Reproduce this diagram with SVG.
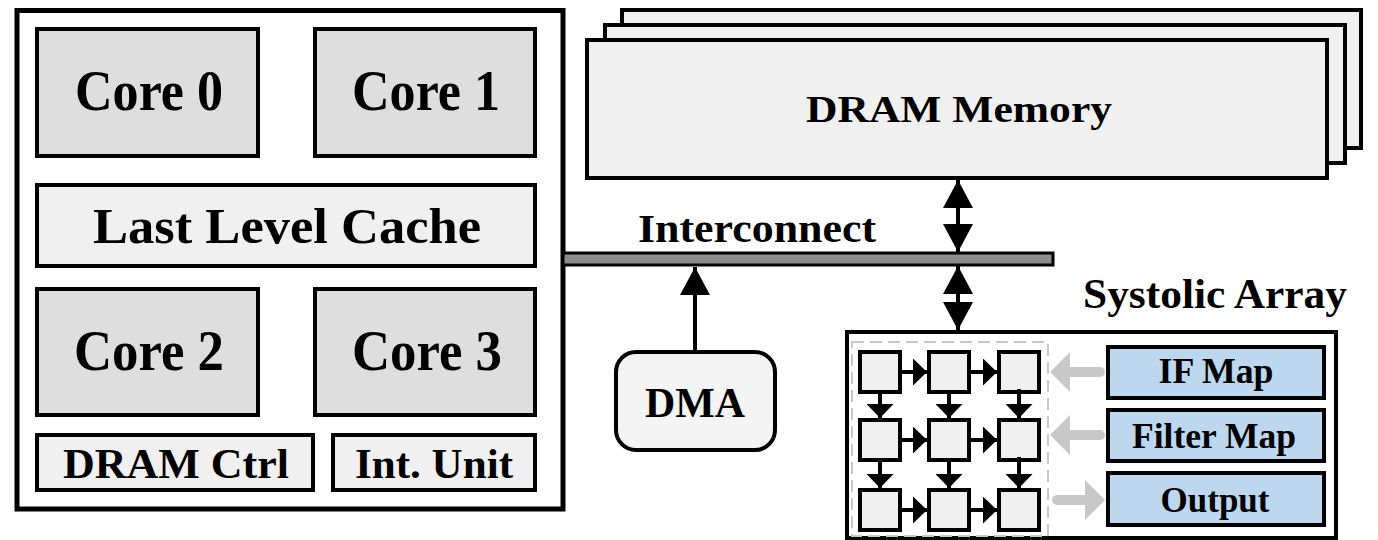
<svg xmlns="http://www.w3.org/2000/svg" width="1378" height="540" viewBox="0 0 1378 540">
  <style>
    .t { font-family: "Liberation Serif", "Times New Roman", serif; font-weight: bold; fill: #000; text-anchor: middle; }
    .core { fill: #dedede; stroke: #000; stroke-width: 4; }
    .light { fill: #f0f0f0; stroke: #000; stroke-width: 4; }
    .pe { fill: #f0f0f0; stroke: #000; stroke-width: 4; }
    .blue { fill: #bdd7ee; stroke: #000; stroke-width: 4; }
    .blk { stroke: #000; stroke-width: 4; fill: none; }
    .pea { stroke: #000; stroke-width: 4; fill: none; }
    .gray { stroke: #c8c8c8; stroke-width: 10; stroke-linecap: round; fill: none; }
  </style>
  <defs>
    <marker id="big" viewBox="0 0 28 30" refX="28" refY="15" markerWidth="28" markerHeight="30" markerUnits="userSpaceOnUse" orient="auto-start-reverse">
      <path d="M0,0 L28,15 L0,30 z" fill="#000"/>
    </marker>
    <marker id="small" viewBox="0 0 14 27" refX="14" refY="13.5" markerWidth="14" markerHeight="27" markerUnits="userSpaceOnUse" orient="auto">
      <path d="M0,0 L14,13.5 L0,27 z" fill="#000"/>
    </marker>
    <marker id="garrow" viewBox="0 0 20 40" refX="8" refY="20" markerWidth="20" markerHeight="40" markerUnits="userSpaceOnUse" orient="auto">
      <path d="M0,0 L20,20 L0,40 z" fill="#c8c8c8"/>
    </marker>
  </defs>

  <rect x="0" y="0" width="1378" height="540" fill="#fff"/>

  <g id="cpu">
    <rect x="17" y="10.5" width="546" height="498.5" fill="#fff" stroke="#000" stroke-width="5"/>
  </g>
  <g id="core0">
    <rect class="core" x="37" y="29" width="221" height="127"/>
    <text class="t" x="149" y="110" font-size="56" textLength="148" lengthAdjust="spacingAndGlyphs">Core 0</text>
  </g>
  <g id="core1">
    <rect class="core" x="315" y="29" width="220" height="127"/>
    <text class="t" x="426" y="110" font-size="56" textLength="148" lengthAdjust="spacingAndGlyphs">Core 1</text>
  </g>
  <g id="llc">
    <rect class="light" x="37" y="185" width="498" height="81"/>
    <text class="t" x="287" y="243" font-size="50" textLength="388" lengthAdjust="spacingAndGlyphs">Last Level Cache</text>
  </g>
  <g id="core2">
    <rect class="core" x="37" y="289" width="221" height="126"/>
    <text class="t" x="149" y="370" font-size="56" textLength="150" lengthAdjust="spacingAndGlyphs">Core 2</text>
  </g>
  <g id="core3">
    <rect class="core" x="315" y="289" width="220" height="126"/>
    <text class="t" x="427" y="370" font-size="56" textLength="150" lengthAdjust="spacingAndGlyphs">Core 3</text>
  </g>
  <g id="dramctrl">
    <rect class="light" x="37" y="435" width="276" height="55"/>
    <text class="t" x="176" y="478" font-size="42" textLength="226" lengthAdjust="spacingAndGlyphs">DRAM Ctrl</text>
  </g>
  <g id="intunit">
    <rect class="light" x="333" y="435" width="202" height="55"/>
    <text class="t" x="434" y="478" font-size="42" textLength="158" lengthAdjust="spacingAndGlyphs">Int. Unit</text>
  </g>

  <g id="dram">
    <rect class="light" x="622" y="10" width="739" height="138"/>
    <rect class="light" x="605" y="25" width="740" height="138"/>
    <rect class="light" x="587" y="40" width="740" height="138"/>
    <text class="t" x="959" y="122" font-size="38" textLength="306" lengthAdjust="spacingAndGlyphs">DRAM Memory</text>
  </g>

  <g id="interconnect">
    <rect x="563" y="253" width="490" height="12" fill="#8c8c8c" stroke="#000" stroke-width="3"/>
    <text class="t" x="757" y="242" font-size="41" textLength="238" lengthAdjust="spacingAndGlyphs">Interconnect</text>
  </g>

  <g id="dma">
    <rect x="616" y="352" width="159" height="98" rx="20" ry="20" fill="#f4f4f4" stroke="#000" stroke-width="4"/>
    <text class="t" x="695" y="417" font-size="42" textLength="100" lengthAdjust="spacingAndGlyphs">DMA</text>
  </g>

  <g id="systolic">
    <text class="t" x="1215" y="308" font-size="42" textLength="264" lengthAdjust="spacingAndGlyphs">Systolic Array</text>
    <rect x="847" y="332" width="489" height="206" fill="#fff" stroke="#000" stroke-width="4"/>
    <rect x="852" y="342" width="196" height="194" fill="none" stroke="#c8c8c8" stroke-width="2" stroke-dasharray="12 6"/>
  </g>
  <g id="pes">
    <rect class="pe" x="860" y="352" width="40" height="40"/>
    <rect class="pe" x="929" y="352" width="40" height="40"/>
    <rect class="pe" x="999" y="352" width="40" height="40"/>
    <rect class="pe" x="860" y="420" width="40" height="40"/>
    <rect class="pe" x="929" y="420" width="40" height="40"/>
    <rect class="pe" x="999" y="420" width="40" height="40"/>
    <rect class="pe" x="860" y="490" width="40" height="40"/>
    <rect class="pe" x="929" y="490" width="40" height="40"/>
    <rect class="pe" x="999" y="490" width="40" height="40"/>
  </g>
  <g id="ifmap">
    <rect class="blue" x="1108" y="347" width="216" height="51"/>
    <text class="t" x="1216" y="383" font-size="35" textLength="115" lengthAdjust="spacingAndGlyphs">IF Map</text>
  </g>
  <g id="filtermap">
    <rect class="blue" x="1108" y="410" width="216" height="51"/>
    <text class="t" x="1214" y="448" font-size="35" textLength="164" lengthAdjust="spacingAndGlyphs">Filter Map</text>
  </g>
  <g id="output">
    <rect class="blue" x="1108" y="473" width="216" height="52"/>
    <text class="t" x="1215" y="512" font-size="35" textLength="109" lengthAdjust="spacingAndGlyphs">Output</text>
  </g>

  <g id="connectors">
    <line class="blk" x1="958" y1="180" x2="958" y2="252" marker-start="url(#big)" marker-end="url(#big)"/>
    <line class="blk" x1="958" y1="266" x2="958" y2="330" marker-start="url(#big)" marker-end="url(#big)"/>
    <line class="blk" x1="695" y1="350" x2="695" y2="267" marker-end="url(#big)"/>

    <line class="pea" x1="902" y1="372" x2="927" y2="372" marker-end="url(#small)"/>
    <line class="pea" x1="971" y1="372" x2="997" y2="372" marker-end="url(#small)"/>
    <line class="pea" x1="902" y1="440" x2="927" y2="440" marker-end="url(#small)"/>
    <line class="pea" x1="971" y1="440" x2="997" y2="440" marker-end="url(#small)"/>
    <line class="pea" x1="902" y1="510" x2="927" y2="510" marker-end="url(#small)"/>
    <line class="pea" x1="971" y1="510" x2="997" y2="510" marker-end="url(#small)"/>

    <line class="pea" x1="880" y1="394" x2="880" y2="418" marker-end="url(#small)"/>
    <line class="pea" x1="949" y1="394" x2="949" y2="418" marker-end="url(#small)"/>
    <line class="pea" x1="1019" y1="389" x2="1019" y2="418" marker-end="url(#small)"/>
    <line class="pea" x1="880" y1="462" x2="880" y2="488" marker-end="url(#small)"/>
    <line class="pea" x1="949" y1="462" x2="949" y2="488" marker-end="url(#small)"/>
    <line class="pea" x1="1019" y1="457" x2="1019" y2="488" marker-end="url(#small)"/>

    <line class="gray" x1="1100" y1="372" x2="1062" y2="372" marker-end="url(#garrow)"/>
    <line class="gray" x1="1100" y1="435" x2="1062" y2="435" marker-end="url(#garrow)"/>
    <line class="gray" x1="1057" y1="500" x2="1093" y2="500" marker-end="url(#garrow)"/>
  </g>
</svg>
